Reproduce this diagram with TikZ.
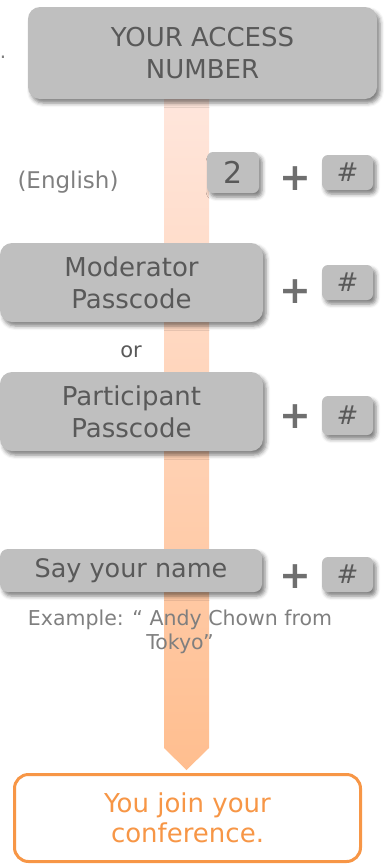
\documentclass[tikz,border=0pt]{standalone}
\usepackage{fontspec}
\setmainfont{DejaVu Sans}
\usetikzlibrary{shadows.blur}
\definecolor{boxgray}{HTML}{BFBFBF}
\definecolor{txtgray}{HTML}{595959}
\definecolor{notegray}{HTML}{7F7F7F}
\definecolor{plusgray}{HTML}{6F6F6F}
\definecolor{joinorange}{HTML}{F79646}
\definecolor{bandtop}{HTML}{FFE6DC}
\definecolor{bandbot}{HTML}{FFBE8F}
\tikzset{
  keybox/.style={fill=boxgray, text=txtgray, rounded corners=12pt, align=center,
    inner sep=0pt,
    blur shadow={shadow xshift=3pt, shadow yshift=-4pt, shadow blur radius=4pt, shadow opacity=50}},
  bigtext/.style={font=\fontsize{26}{32}\selectfont},
  hashbox/.style={keybox, rounded corners=6pt, minimum width=51pt,
    font=\fontsize{26}{28}\selectfont\itshape},
  plussign/.style={text=plusgray, font=\fontsize{38}{40}\selectfont\bfseries, inner sep=0pt},
  note/.style={text=notegray, align=center, inner sep=0pt},
  joinbox/.style={draw=joinorange, line width=3pt, fill=white, rounded corners=14pt,
    text=joinorange, align=center, inner sep=0pt, font=\fontsize{26}{30}\selectfont},
}
\begin{document}
\begin{tikzpicture}[x=1pt,y=-1pt]
\useasboundingbox (0,0) rectangle (386,865);

% stray full stop at the left margin
\node[note, font=\fontsize{20}{24}\selectfont] (dot) at (3,57) {.};

% the flow arrow running behind all steps
\coordinate (shaftTop) at (186.5,99);
\coordinate (shaftTip) at (186.5,770);
\shade[top color=bandtop, bottom color=bandbot]
  ([xshift=-22.5pt]shaftTop) -- ([xshift=22.5pt]shaftTop)
  -- ([xshift=22.5pt,yshift=22pt]shaftTip) -- (shaftTip)
  -- ([xshift=-22.5pt,yshift=22pt]shaftTip) -- cycle;

% step 1: access number
\node[keybox, bigtext, minimum width=349pt, minimum height=92pt] (access) at (202.5,53)
  {YOUR ACCESS\\NUMBER};

% step 2: language choice
\node[note, font=\fontsize{23}{26}\selectfont] (lang) at (68,182) {(English)};
\node[keybox, rounded corners=6pt, minimum width=52pt, minimum height=41pt,
  font=\fontsize{30}{32}\selectfont] (two) at (233,172.5) {2};
\node[plussign] (plusA) at (295,179) {+};
\node[hashbox, minimum height=35pt] (hashA) at (347.5,172.5) {\#};

% step 3: passcode
\node[keybox, bigtext, minimum width=263pt, minimum height=79pt] (moder) at (131.5,282.5)
  {Moderator\\Passcode};
\node[plussign] (plusB) at (295,292) {+};
\node[hashbox, minimum height=35pt] (hashB) at (347.5,282.5) {\#};

\node[text=txtgray, font=\fontsize{21}{24}\selectfont, inner sep=0pt] (or) at (131,352) {or};

\node[keybox, bigtext, minimum width=263pt, minimum height=79pt] (partic) at (131.5,411.5)
  {Participant\\Passcode};
\node[plussign] (plusC) at (295,417) {+};
\node[hashbox, minimum height=39pt] (hashC) at (347.5,415.5) {\#};

% step 4: name
\node[keybox, rounded corners=8pt, font=\fontsize{25.5}{30}\selectfont,
  minimum width=262pt, minimum height=43pt] (name) at (131,570.5) {Say your name};
\node[plussign] (plusD) at (295,577) {+};
\node[hashbox, minimum height=35pt] (hashD) at (347.5,574.5) {\#};

\node[note, font=\fontsize{20.5}{24}\selectfont] (example) at (180,632)
  {Example: “ Andy Chown from\\Tokyo”};

% result
\node[joinbox, minimum width=346pt, minimum height=87pt] (join) at (187.5,818)
  {You join your\\conference.};
\end{tikzpicture}
\end{document}
